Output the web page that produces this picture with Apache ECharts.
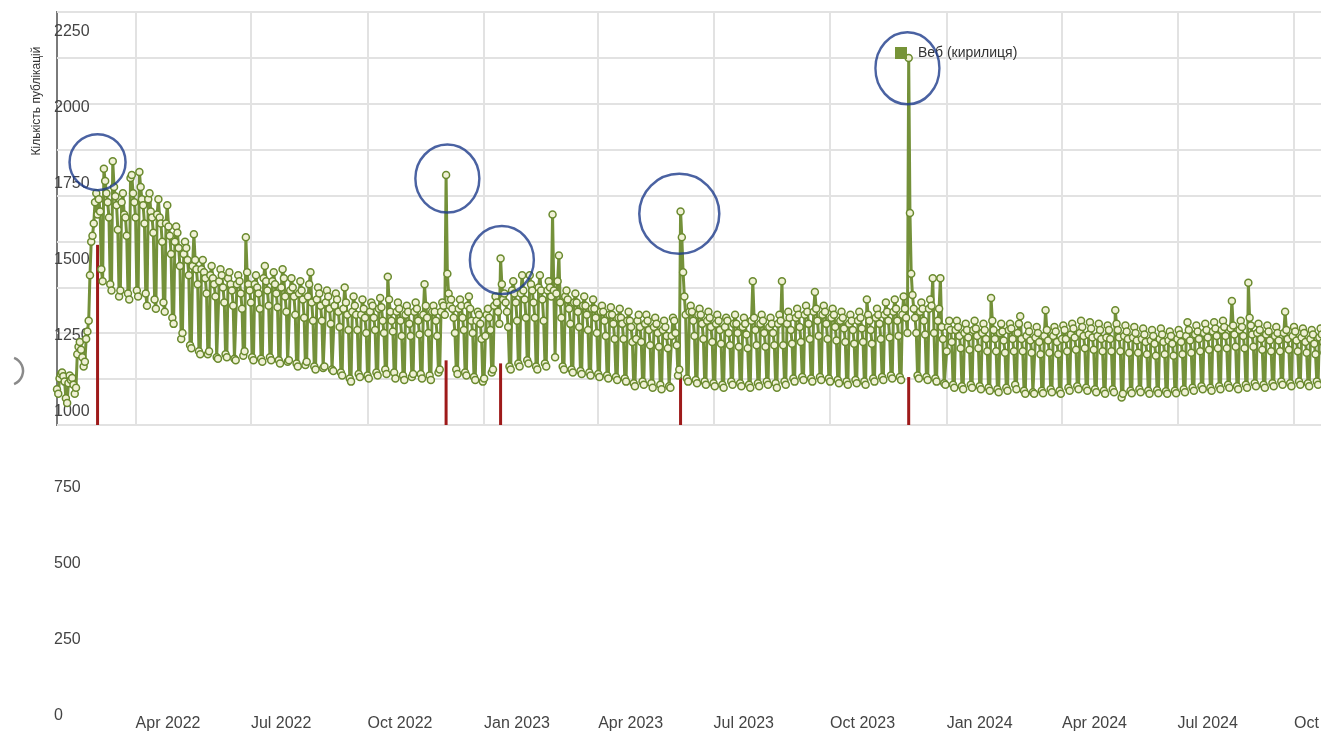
<!DOCTYPE html>
<html>
<head>
<meta charset="utf-8">
<title>Веб (кирилиця)</title>
<script src="https://cdn.jsdelivr.net/npm/echarts@6/dist/echarts.min.js"></script>
<style>
  html, body { margin: 0; padding: 0; background: #fff; }
  #chart { width: 1321px; height: 733px; }
</style>
</head>
<body>
<div id="chart"></div>
<script>
// щоденна кількість публікацій з 29.01.2022, рядок = тиждень (сб, нд, пн, вт, ср, чт, пт)
var firstDay = [2022, 0, 29];
var weeklyCounts = [
    [1075, 1060, 1110, 1125, 1130, 1118, 1100],
    [1045, 1030, 1095, 1120, 1105, 1112, 1090],
    [1060, 1080, 1190, 1215, 1230, 1205, 1180],
    [1150, 1165, 1240, 1265, 1300, 1450, 1560],
    [1580, 1620, 1690, 1720, 1650, 1700, 1660],
    [1470, 1430, 1800, 1760, 1720, 1690, 1640],
    [1420, 1400, 1825, 1740, 1710, 1680, 1600],
    [1380, 1400, 1690, 1720, 1650, 1640, 1580],
    [1390, 1370, 1770, 1780, 1720, 1690, 1640],
    [1400, 1380, 1790, 1740, 1700, 1680, 1620],
    [1390, 1350, 1700, 1720, 1660, 1640, 1590],
    [1370, 1340, 1650, 1700, 1640, 1620, 1560],
    [1360, 1330, 1620, 1680, 1610, 1580, 1520],
    [1310, 1290, 1560, 1610, 1590, 1540, 1480],
    [1240, 1260, 1520, 1560, 1540, 1500, 1450],
    [1220, 1210, 1480, 1585, 1500, 1470, 1420],
    [1200, 1190, 1470, 1500, 1460, 1440, 1390],
    [1190, 1200, 1450, 1480, 1440, 1420, 1380],
    [1180, 1175, 1430, 1470, 1450, 1410, 1360],
    [1190, 1180, 1440, 1460, 1420, 1400, 1350],
    [1175, 1170, 1420, 1450, 1430, 1390, 1340],
    [1185, 1200, 1575, 1460, 1420, 1400, 1360],
    [1180, 1170, 1420, 1450, 1410, 1390, 1340],
    [1175, 1165, 1440, 1480, 1430, 1400, 1350],
    [1180, 1170, 1430, 1460, 1420, 1390, 1345],
    [1170, 1160, 1410, 1470, 1440, 1380, 1330],
    [1165, 1170, 1400, 1440, 1410, 1380, 1320],
    [1160, 1150, 1390, 1430, 1400, 1370, 1310],
    [1155, 1165, 1380, 1420, 1460, 1360, 1300],
    [1150, 1140, 1370, 1410, 1390, 1350, 1300],
    [1145, 1150, 1360, 1400, 1380, 1340, 1290],
    [1140, 1135, 1350, 1390, 1370, 1330, 1280],
    [1130, 1120, 1340, 1410, 1360, 1320, 1270],
    [1110, 1100, 1330, 1380, 1350, 1320, 1270],
    [1125, 1115, 1320, 1370, 1340, 1310, 1260],
    [1120, 1110, 1330, 1360, 1350, 1310, 1270],
    [1130, 1120, 1340, 1375, 1345, 1300, 1260],
    [1140, 1125, 1445, 1370, 1330, 1300, 1265],
    [1130, 1110, 1330, 1360, 1340, 1300, 1250],
    [1120, 1105, 1320, 1350, 1330, 1290, 1250],
    [1115, 1125, 1330, 1360, 1340, 1300, 1255],
    [1125, 1110, 1320, 1420, 1350, 1310, 1260],
    [1120, 1105, 1330, 1350, 1330, 1300, 1250],
    [1130, 1140, 1330, 1360, 1350, 1320, 1780],
    [1455, 1390, 1350, 1370, 1340, 1310, 1260],
    [1140, 1125, 1340, 1370, 1350, 1310, 1270],
    [1130, 1120, 1350, 1380, 1340, 1300, 1260],
    [1115, 1105, 1300, 1330, 1320, 1290, 1240],
    [1100, 1110, 1250, 1320, 1340, 1310, 1270],
    [1130, 1140, 1350, 1380, 1360, 1330, 1290],
    [1505, 1420, 1370, 1390, 1360, 1330, 1280],
    [1150, 1140, 1400, 1430, 1390, 1360, 1300],
    [1160, 1150, 1390, 1450, 1400, 1370, 1310],
    [1170, 1160, 1450, 1420, 1400, 1360, 1310],
    [1150, 1140, 1410, 1450, 1400, 1370, 1300],
    [1160, 1150, 1400, 1430, 1410, 1380, 1650],
    [1400, 1180, 1390, 1430, 1515, 1360, 1310],
    [1150, 1140, 1380, 1400, 1370, 1340, 1290],
    [1140, 1130, 1360, 1390, 1360, 1330, 1280],
    [1135, 1125, 1350, 1380, 1350, 1320, 1270],
    [1130, 1120, 1340, 1370, 1340, 1310, 1260],
    [1125, 1115, 1330, 1350, 1330, 1300, 1250],
    [1120, 1110, 1320, 1345, 1320, 1290, 1240],
    [1115, 1105, 1310, 1340, 1310, 1290, 1240],
    [1110, 1100, 1300, 1330, 1300, 1280, 1230],
    [1095, 1085, 1240, 1300, 1320, 1280, 1230],
    [1100, 1090, 1290, 1320, 1300, 1270, 1220],
    [1095, 1080, 1280, 1310, 1290, 1260, 1215],
    [1090, 1075, 1270, 1300, 1280, 1250, 1210],
    [1085, 1080, 1250, 1310, 1300, 1260, 1220],
    [1120, 1140, 1660, 1575, 1460, 1380, 1320],
    [1110, 1100, 1330, 1350, 1330, 1300, 1250],
    [1105, 1095, 1320, 1340, 1320, 1290, 1240],
    [1100, 1090, 1300, 1330, 1310, 1280, 1230],
    [1095, 1085, 1290, 1320, 1300, 1270, 1225],
    [1090, 1080, 1280, 1310, 1300, 1260, 1220],
    [1100, 1090, 1290, 1320, 1290, 1260, 1215],
    [1095, 1085, 1280, 1310, 1290, 1255, 1210],
    [1090, 1080, 1300, 1430, 1310, 1270, 1220],
    [1095, 1085, 1290, 1320, 1300, 1260, 1215],
    [1100, 1090, 1280, 1310, 1290, 1260, 1220],
    [1095, 1080, 1290, 1320, 1300, 1430, 1220],
    [1100, 1090, 1290, 1330, 1310, 1270, 1225],
    [1110, 1100, 1310, 1340, 1320, 1280, 1230],
    [1115, 1105, 1320, 1350, 1330, 1290, 1240],
    [1110, 1100, 1330, 1395, 1340, 1300, 1250],
    [1115, 1105, 1320, 1350, 1330, 1290, 1240],
    [1110, 1100, 1310, 1340, 1320, 1280, 1235],
    [1105, 1095, 1300, 1330, 1310, 1275, 1230],
    [1100, 1090, 1290, 1320, 1300, 1270, 1225],
    [1105, 1095, 1300, 1330, 1310, 1275, 1230],
    [1100, 1090, 1370, 1320, 1300, 1270, 1225],
    [1110, 1100, 1310, 1340, 1320, 1290, 1240],
    [1115, 1105, 1320, 1360, 1330, 1300, 1245],
    [1120, 1110, 1330, 1370, 1340, 1300, 1250],
    [1115, 1105, 1320, 1380, 1340, 1310, 1260],
    [2165, 1655, 1455, 1385, 1340, 1310, 1260],
    [1120, 1110, 1330, 1360, 1340, 1300, 1255],
    [1115, 1105, 1340, 1370, 1350, 1440, 1260],
    [1110, 1100, 1300, 1340, 1440, 1280, 1240],
    [1095, 1090, 1200, 1280, 1300, 1270, 1230],
    [1090, 1080, 1270, 1300, 1280, 1250, 1210],
    [1085, 1075, 1260, 1290, 1270, 1245, 1205],
    [1090, 1080, 1270, 1300, 1275, 1250, 1210],
    [1085, 1075, 1260, 1290, 1270, 1240, 1200],
    [1080, 1070, 1375, 1300, 1270, 1240, 1200],
    [1075, 1065, 1260, 1290, 1265, 1235, 1195],
    [1080, 1070, 1270, 1290, 1275, 1240, 1200],
    [1090, 1075, 1260, 1290, 1315, 1240, 1200],
    [1070, 1060, 1250, 1285, 1265, 1235, 1195],
    [1065, 1060, 1245, 1280, 1260, 1230, 1190],
    [1070, 1062, 1250, 1335, 1270, 1235, 1195],
    [1075, 1065, 1250, 1280, 1265, 1230, 1190],
    [1070, 1060, 1240, 1285, 1270, 1240, 1200],
    [1080, 1070, 1255, 1290, 1275, 1245, 1205],
    [1085, 1075, 1260, 1300, 1280, 1250, 1210],
    [1080, 1070, 1255, 1295, 1275, 1245, 1205],
    [1075, 1065, 1250, 1290, 1270, 1240, 1200],
    [1070, 1060, 1245, 1285, 1270, 1240, 1200],
    [1075, 1065, 1335, 1290, 1270, 1245, 1200],
    [1048, 1060, 1250, 1285, 1265, 1240, 1195],
    [1070, 1062, 1245, 1280, 1260, 1235, 1195],
    [1075, 1065, 1240, 1275, 1255, 1230, 1190],
    [1070, 1060, 1235, 1270, 1250, 1225, 1185],
    [1072, 1062, 1240, 1275, 1255, 1230, 1190],
    [1068, 1060, 1235, 1265, 1250, 1225, 1185],
    [1070, 1062, 1240, 1270, 1255, 1230, 1190],
    [1075, 1065, 1250, 1295, 1270, 1235, 1195],
    [1080, 1070, 1255, 1285, 1265, 1240, 1200],
    [1085, 1075, 1260, 1290, 1270, 1245, 1205],
    [1080, 1070, 1265, 1295, 1275, 1250, 1210],
    [1085, 1075, 1270, 1300, 1280, 1250, 1210],
    [1090, 1080, 1275, 1365, 1285, 1255, 1215],
    [1085, 1075, 1270, 1300, 1280, 1250, 1210],
    [1090, 1080, 1425, 1310, 1285, 1255, 1215],
    [1095, 1085, 1260, 1290, 1270, 1240, 1205],
    [1090, 1080, 1255, 1285, 1265, 1235, 1200],
    [1095, 1085, 1250, 1280, 1260, 1235, 1200],
    [1100, 1090, 1260, 1330, 1270, 1240, 1205],
    [1095, 1085, 1250, 1280, 1265, 1235, 1200],
    [1100, 1090, 1245, 1275, 1260, 1230, 1195],
    [1095, 1085, 1240, 1270, 1255, 1225, 1190],
    [1100, 1090, 1245, 1275, 1255, 1230, 1195],
    [1095, 1085, 1240, 1270, 1250, 1225]
];

// червоні позначки подій
var eventDates = ['2022-03-02', '2022-12-02', '2023-01-14', '2023-06-05', '2023-12-02'];
var eventValues = [1550, 1170, 1160, 1115, 1115];

// обведені піки
var ringDates = ['2022-03-02', '2022-12-03', '2023-01-15', '2023-06-04', '2023-12-01'];
var ringValues = [1822, 1768, 1500, 1652, 2131];
var ringSizes = [[56, 56], [64, 68], [64, 68], [80, 80], [64, 72]];

var monthNames = ['Jan', 'Feb', 'Mar', 'Apr', 'May', 'Jun', 'Jul', 'Aug', 'Sep', 'Oct', 'Nov', 'Dec'];

//розгортаємо тижні в дні
var counts = [].concat.apply([], weeklyCounts);
var days = [];
var t0 = Date.UTC(firstDay[0], firstDay[1], firstDay[2]);
for (var i = 0; i < counts.length; i++) {
    days.push(new Date(t0 + i * 86400000).toISOString().slice(0, 10));
}

function isQuarterStart(d) {
    var md = d.slice(5);
    return md === '01-01' || md === '04-01' || md === '07-01' || md === '10-01';
}

var eventBars = days.map(function (d) {
    var k = eventDates.indexOf(d);
    return k < 0 ? '-' : eventValues[k];
});

var ringData = ringDates.map(function (d, k) {
    return [d, ringValues[k]];
});

var chart = echarts.init(document.getElementById('chart'));

chart.setOption({
    animation: false,
    backgroundColor: '#fff',
    legend: {
        data: ['Веб (кирилиця)'],
        left: 895,
        top: 46,
        padding: 0,
        icon: 'rect',
        itemWidth: 12,
        itemHeight: 12,
        selectedMode: false,
        itemStyle: { color: '#769337', borderWidth: 0 },
        textStyle: { fontSize: 14, color: '#333', padding: [0, 0, 0, 6], fontFamily: 'Liberation Sans' }
    },
    grid: [
        { left: 57, right: -11, top: 12, height: 413, show: true, borderColor: '#7a7a7a', borderWidth: 2, outerBoundsMode: 'none', containLabel: false },
        { left: 57, right: -11, top: 12, height: 704, outerBoundsMode: 'none', containLabel: false }
    ],
    xAxis: [
        {
            type: 'category', gridIndex: 0, data: days, boundaryGap: false,
            axisLine: { show: false }, axisTick: { show: false }, axisLabel: { show: false },
            splitLine: {
                show: true,
                interval: function (idx, val) { return isQuarterStart(val); },
                lineStyle: { color: '#e2e2e2', width: 2 }
            }
        },
        {
            type: 'category', gridIndex: 1, data: days, boundaryGap: false,
            axisLine: { show: false }, axisTick: { show: false }, splitLine: { show: false },
            axisLabel: {
                interval: function (idx, val) { return isQuarterStart(val); },
                formatter: function (val) {
                    return monthNames[+val.slice(5, 7) - 1] + ' ' + val.slice(0, 4);
                },
                align: 'left',
                margin: 0,
                fontSize: 16,
                color: '#444',
                fontFamily: 'Liberation Sans'
            }
        }
    ],
    yAxis: [
        {
            type: 'value', gridIndex: 0, min: 957.3, max: 2316,
            axisLabel: { show: false }, axisLine: { show: false }, axisTick: { show: false }, splitLine: { show: false }
        },
        {
            // смуги сітки всередині рамки
            type: 'value', gridIndex: 0, min: 0, max: 9, interval: 1,
            axisLabel: { show: false }, axisLine: { show: false }, axisTick: { show: false },
            splitLine: { show: true, lineStyle: { color: '#e2e2e2', width: 2 } }
        },
        {
            type: 'value', gridIndex: 1, min: 0, max: 2316, interval: 250,
            axisLine: { show: false }, axisTick: { show: false }, splitLine: { show: false },
            axisLabel: {
                align: 'left', margin: 3, fontSize: 16, color: '#444', fontFamily: 'Liberation Sans',
                formatter: function (v) { return v % 250 === 0 ? v : ''; }
            }
        }
    ],
    graphic: [
        {
            type: 'text', x: 37, y: 101, rotation: Math.PI / 2,
            style: { text: 'Кількість публікацій', fontSize: 12, fill: '#333', align: 'center', verticalAlign: 'middle', fontFamily: 'Liberation Sans' }
        },
        {
            type: 'arc', shape: { cx: 9, cy: 371, r: 14, startAngle: -1.2, endAngle: 1.2 },
            style: { stroke: '#8a8a8a', lineWidth: 2.5, fill: null }
        }
    ],
    series: [
        {
            name: 'Події', type: 'bar', xAxisIndex: 0, yAxisIndex: 0,
            data: eventBars, barWidth: 3, clip: true, silent: true, z: 1,
            itemStyle: { color: '#9e1a1a' }
        },
        {
            name: 'Веб (кирилиця)', type: 'line', xAxisIndex: 0, yAxisIndex: 0,
            data: counts, showAllSymbol: true, symbol: 'circle', symbolSize: 7, z: 2,
            lineStyle: { color: '#74913a', width: 3 },
            itemStyle: { color: '#f0f1d6', borderColor: '#6a8a2e', borderWidth: 1.5 }
        },
        {
            name: 'Кола', type: 'scatter', xAxisIndex: 0, yAxisIndex: 0,
            data: ringData, z: 5, silent: true,
            symbolSize: function (val, params) { return ringSizes[params.dataIndex]; },
            itemStyle: { color: 'rgba(0,0,0,0)', borderColor: '#1d3b8b', borderWidth: 2.5 }
        }
    ]
});
</script>
</body>
</html>
